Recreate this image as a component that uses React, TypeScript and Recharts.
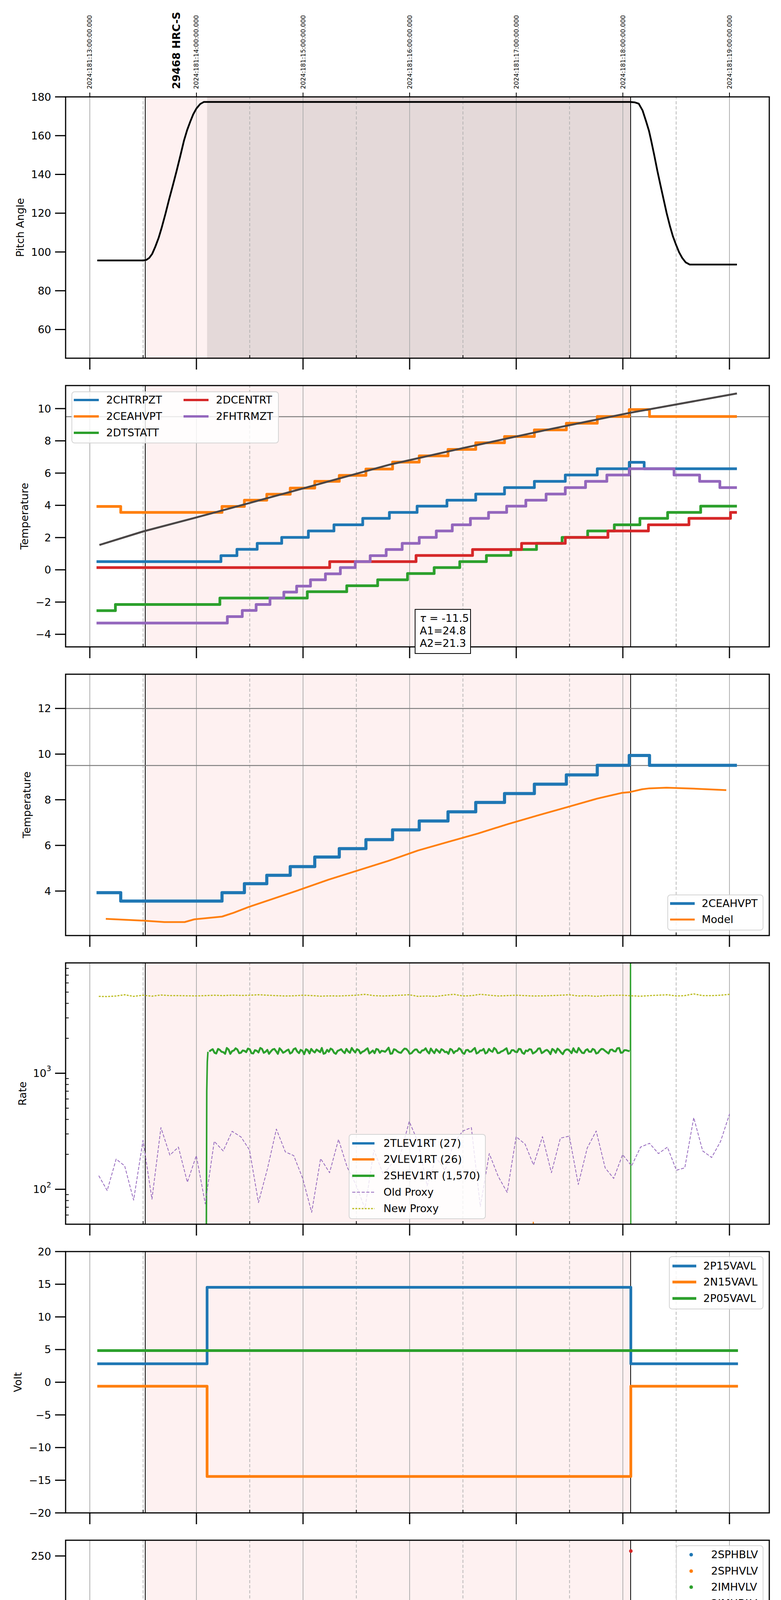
import React from 'react';
import { ComposedChart, Line, Scatter, XAxis, YAxis, ReferenceArea, ReferenceLine, Legend, Label } from 'recharts';

// ---------------- data ----------------
const HOURS = [9, 10, 11, 12, 13, 14, 15];
const HALF_HOURS = [9.5, 10.5, 11.5, 12.5, 13.5, 14.5];
const X_TICKS = [9, 9.5, 10, 10.5, 11, 11.5, 12, 12.5, 13, 13.5, 14, 14.5, 15];
const HOUR_LABELS = ['09h', '10h', '11h', '12h', '13h', '14h', '15h'];
const HALF_LABEL = '30';
const TOP_LABELS = [
  '2024:181:13:00:00.000', '2024:181:14:00:00.000', '2024:181:15:00:00.000', '2024:181:16:00:00.000',
  '2024:181:17:00:00.000', '2024:181:18:00:00.000', '2024:181:19:00:00.000',
];
const OBSID_LABEL = '29468 HRC-S';
const OBSID_X = 9.81;
const TOP_TICKS = [9, OBSID_X, 10, 11, 12, 13, 14, 15];
const X_TITLE = '2024-06-29 (181)';
const OBS_START = 9.52;
const OBS_END = 14.073;
const DWELL_START = 10.1;

const pitchAngle = [[9.07,95.6],[9.499,95.6],[9.53,95.9],[9.557,96.9],[9.585,99.0],[9.615,102.8],[9.645,107.2],[9.674,112.5],[9.71,119.8],[9.744,127.2],[9.78,134.6],[9.814,141.8],[9.85,149.8],[9.883,157.4],[9.913,162.9],[9.942,167.2],[9.97,171.0],[10.0,174.0],[10.035,176.3],[10.07,177.4],[14.068,177.4],[14.11,177.2],[14.149,176.5],[14.185,173.0],[14.219,167.2],[14.245,162.5],[14.266,157.4],[14.295,149.8],[14.324,141.8],[14.353,134.4],[14.382,127.2],[14.411,120.0],[14.441,113.5],[14.47,108.0],[14.499,103.7],[14.528,99.8],[14.557,96.9],[14.59,94.6],[14.627,93.5],[15.07,93.5]];

const chtrpzt = [[9.063,0.51],[10.23,0.88],[10.38,1.27],[10.57,1.64],[10.8,2.01],[11.05,2.41],[11.29,2.79],[11.56,3.19],[11.81,3.56],[12.07,3.95],[12.35,4.32],[12.62,4.7],[12.89,5.1],[13.17,5.49],[13.46,5.88],[13.76,6.27],[14.06,6.67],[14.2,6.27],[15.07,6.27]];
const ceahvpt = [[9.063,3.93],[9.29,3.56],[10.24,3.93],[10.45,4.32],[10.66,4.69],[10.88,5.07],[11.11,5.49],[11.34,5.86],[11.59,6.25],[11.84,6.68],[12.09,7.07],[12.36,7.47],[12.62,7.88],[12.89,8.27],[13.17,8.68],[13.47,9.09],[13.76,9.51],[14.06,9.94],[14.25,9.51],[15.07,9.51]];
const dtstatt = [[9.063,-2.53],[9.24,-2.15],[10.22,-1.75],[11.04,-1.36],[11.41,-0.99],[11.7,-0.62],[11.98,-0.23],[12.23,0.14],[12.47,0.51],[12.72,0.89],[12.95,1.26],[13.19,1.64],[13.43,2.01],[13.67,2.41],[13.92,2.79],[14.16,3.19],[14.42,3.56],[14.73,3.95],[15.07,3.95]];
const dcentrt = [[9.063,0.14],[11.25,0.51],[12.06,0.89],[12.59,1.26],[13.05,1.64],[13.46,2.01],[13.86,2.41],[14.24,2.79],[14.62,3.19],[15.01,3.56],[15.07,3.56]];
const fhtrmzt = [[9.063,-3.3],[10.29,-2.9],[10.43,-2.52],[10.56,-2.15],[10.69,-1.75],[10.82,-1.38],[10.94,-1.01],[11.07,-0.62],[11.21,-0.25],[11.35,0.14],[11.49,0.51],[11.63,0.88],[11.78,1.26],[11.93,1.64],[12.09,2.01],[12.25,2.41],[12.4,2.79],[12.57,3.19],[12.74,3.56],[12.91,3.95],[13.09,4.32],[13.28,4.7],[13.46,5.1],[13.65,5.49],[13.85,5.88],[14.06,6.27],[14.48,5.88],[14.72,5.49],[14.91,5.1],[15.07,5.1]];
const fitModel = [[9.09,1.54],[9.5,2.38],[10.0,3.25],[10.24,3.68],[11.0,5.05],[11.81,6.52],[12.5,7.55],[13.3,8.7],[14.06,9.73],[15.07,10.94]];
const FIT_TEXT = ['= -11.5', 'A1=24.8', 'A2=21.3'];

const ceahvptModel = [[9.15,2.78],[9.51,2.7],[9.7,2.64],[9.89,2.64],[9.98,2.76],[10.24,2.88],[10.35,3.05],[10.49,3.3],[10.7,3.63],[10.96,4.04],[11.24,4.5],[11.52,4.91],[11.8,5.32],[12.08,5.78],[12.36,6.15],[12.64,6.52],[12.92,6.93],[13.2,7.31],[13.48,7.68],[13.76,8.05],[13.99,8.3],[14.06,8.33],[14.18,8.46],[14.25,8.5],[14.41,8.53],[14.6,8.5],[14.79,8.46],[14.97,8.42]];

const proxyTimes = [9.084,9.163,9.247,9.327,9.411,9.499,9.583,9.667,9.751,9.831,9.915,9.999,10.083,10.167,10.251,10.335,10.419,10.498,10.582,10.666,10.75,10.834,10.913,10.997,11.081,11.165,11.249,11.333,11.413,11.497,11.581,11.665,11.753,11.837,11.916,11.996,12.08,12.164,12.248,12.332,12.416,12.5,12.579,12.663,12.747,12.831,12.915,12.999,13.083,13.162,13.246,13.33,13.414,13.498,13.582,13.666,13.75,13.834,13.914,13.998,14.082,14.166,14.25,14.334,14.418,14.502,14.581,14.665,14.749,14.833,14.917,15.001];
const oldProxy = [131,97.5,182,159,80.7,264,82.2,340,197,231,115,195,74.9,259,214,316,282,218,76.9,150,330,210,195,124,63.3,184,139,269,156,109,68.2,218,134,168,203,384,254,107,188,145,254,318,340,71,203,129,94,284,245,162,284,139,276,287,110,227,318,153,124,199,159,231,249,203,231,146,153,414,214,188,259,446];
const newProxy = [4595,4578,4630,4745,4595,4703,4612,4720,4665,4665,4648,4640,4665,4703,4665,4710,4680,4700,4745,4703,4665,4630,4650,4703,4670,4612,4640,4630,4665,4703,4786,4665,4630,4665,4703,4745,4595,4630,4595,4703,4786,4630,4665,4786,4703,4630,4665,4703,4665,4630,4640,4665,4703,4745,4630,4665,4600,4665,4690,4703,4650,4612,4665,4703,4745,4630,4665,4826,4665,4665,4703,4786];
const shevTimesA = [10.12,10.153,10.186,10.219,10.252,10.285,10.318,10.351,10.384,10.417,10.45,10.483,10.516,10.549,10.582,10.615,10.648,10.681,10.714,10.747,10.78,10.813,10.846,10.879,10.912,10.945,10.978,11.011,11.044,11.077,11.11,11.143,11.176,11.209,11.242,11.275,11.308,11.341,11.374,11.407,11.44,11.473,11.506,11.539,11.572,11.605,11.638,11.671,11.704,11.737,11.77,11.803,11.836,11.869,11.902,11.935,11.968,12.001,12.034,12.067,12.1,12.133,12.166,12.199,12.232,12.265,12.298,12.331,12.364,12.397,12.43,12.463,12.496,12.529,12.562,12.595,12.628,12.661,12.694,12.727,12.76,12.793,12.826,12.859,12.892,12.925,12.958,12.991,13.024,13.057,13.09,13.123,13.156,13.189,13.222,13.255,13.288,13.321,13.354,13.387,13.42,13.453,13.486,13.519,13.552,13.585,13.618,13.651,13.684,13.717,13.75,13.783,13.816,13.849,13.882,13.915,13.948,13.981,14.014,14.047];
const shevValuesA = [1540,1610,1480,1590,1520,1650,1470,1570,1600,1500,1560,1630,1490,1580,1510,1620,1530,1470,1600,1550,1640,1500,1570,1480,1610,1540,1590,1460,1580,1620,1510,1560,1650,1490,1530,1600,1470,1580,1540,1620,1500,1570,1610,1480,1550,1640,1520,1490,1600,1560,1530,1660,1480,1590,1510,1570,1620,1470,1550,1600,1500,1580,1540,1630,1490,1560,1610,1520,1470,1590,1550,1640,1500,1580,1530,1600,1480,1570,1620,1510,1560,1650,1490,1540,1600,1470,1580,1530,1620,1500,1570,1610,1480,1550,1640,1520,1590,1460,1580,1630,1510,1560,1600,1490,1540,1650,1500,1580,1530,1620,1480,1570,1610,1520,1590,1550,1640,1500,1580,1560];
const shevTimesB = [10.137,10.17,10.203,10.236,10.269,10.302,10.335,10.368,10.401,10.434,10.467,10.5,10.533,10.566,10.599,10.632,10.665,10.698,10.731,10.764,10.797,10.83,10.863,10.896,10.929,10.962,10.995,11.028,11.061,11.094,11.127,11.16,11.193,11.226,11.259,11.292,11.325,11.358,11.391,11.424,11.457,11.49,11.523,11.556,11.589,11.622,11.655,11.688,11.721,11.754,11.787,11.82,11.853,11.886,11.919,11.952,11.985,12.018,12.051,12.084,12.117,12.15,12.183,12.216,12.249,12.282,12.315,12.348,12.381,12.414,12.447,12.48,12.513,12.546,12.579,12.612,12.645,12.678,12.711,12.744,12.777,12.81,12.843,12.876,12.909,12.942,12.975,13.008,13.041,13.074,13.107,13.14,13.173,13.206,13.239,13.272,13.305,13.338,13.371,13.404,13.437,13.47,13.503,13.536,13.569,13.602,13.635,13.668,13.701,13.734,13.767,13.8,13.833,13.866,13.899,13.932,13.965,13.998,14.031,14.064];
const shevValuesB = [1580,1500,1620,1530,1470,1600,1550,1640,1490,1570,1520,1610,1480,1560,1650,1500,1590,1540,1620,1470,1580,1530,1600,1510,1640,1490,1560,1610,1480,1550,1600,1520,1470,1590,1630,1500,1560,1610,1490,1540,1650,1510,1580,1530,1600,1480,1570,1620,1500,1550,1590,1470,1610,1540,1500,1630,1560,1490,1600,1520,1570,1640,1480,1550,1610,1500,1580,1530,1620,1490,1560,1600,1470,1590,1540,1650,1510,1570,1480,1620,1530,1600,1500,1560,1640,1490,1580,1520,1610,1470,1550,1600,1510,1630,1490,1570,1540,1620,1500,1580,1460,1600,1550,1640,1510,1570,1490,1610,1530,1590,1500,1620,1560,1480,1600,1540,1650,1510,1580,1550];
const shevRise = [[10.092,20],[10.097,700],[10.102,1250],[10.108,1530]];
const shevDrop = [[14.07,1560],[14.072,100000],[14.075,20]];
const tlev = [[9.07,27],[15.08,27]];
const vlev = [[9.07,26],[13.155,26],[13.16,52],[13.166,26],[15.08,26]];

const p15vavl = [[9.07,2.82],[10.1,14.53],[14.075,2.82],[15.08,2.82]];
const n15vavl = [[9.07,-0.62],[10.1,-14.42],[14.075,-0.62],[15.08,-0.62]];
const p05vavl = [[9.07,4.85],[15.08,4.85]];

const sphblvPts = [[10.128,118],[10.13,102],[10.135,102],[10.14,97],[10.15,92],[10.16,87],[10.17,82],[10.18,80],[10.19,78]];
const sphblvBand = [[10.19,78],[14.078,78]];
const sphvlvPts = [[10.128,127],[10.129,125.5],[10.13,121],[10.135,96],[10.14,91],[10.145,89],[10.15,85],[10.16,80],[10.165,75],[10.17,71],[12.668,127],[12.704,127],[12.716,127],[13.232,127]];
const sphvlvBand = [[10.175,70.8],[14.078,70.8]];
const imhvlvPts: number[][] = [];
const imhblvPts = [[14.075,255]];

const spinatm = [[10.1,0.81],[10.87,1.28],[11.54,1.75],[12.11,2.21],[12.594,-5],[12.608,2.21],[12.652,-5],[12.664,2.69],
  [12.672,-5],[12.68,2.69],[12.688,-5],[12.696,2.69],[12.704,-5],[12.712,2.69],[12.72,-5],[12.728,2.69],[12.736,-5],[12.744,2.69],[12.752,-5],[12.76,2.69],[12.768,-5],[12.776,2.69],[12.784,-5],[12.792,2.69],[12.8,-5],[12.808,2.69],[12.816,-5],
  [12.822,2.69],
  [13.132,-5],[13.14,3.17],[13.148,-5],[13.156,3.17],[13.164,-5],[13.172,3.17],[13.18,-5],[13.188,3.17],[13.196,-5],[13.204,3.17],[13.212,-5],[13.22,3.17],[13.228,-5],[13.236,3.17],
  [13.27,-5],[13.284,3.17],[13.66,3.67],[14.073,3.67]];
const sphvatm = [[10.097,11.3],[10.1,12.0],[10.25,12.33],[10.33,12.62],[10.4,12.98],[10.48,13.33],[10.55,13.66],[10.63,14.0],[10.71,14.32],[10.8,14.67],[10.9,15.02],[11.02,15.35],[11.14,15.7],[11.26,16.05],[11.41,16.4],[11.57,16.73],[11.74,17.08],[11.92,17.44],[12.09,17.79],[12.3,18.13],[12.49,18.5],
  [12.594,8.95],[12.608,18.5],[12.652,-5],[12.664,8.95],
  [12.672,18.88],[12.68,8.95],[12.688,18.88],[12.696,8.95],[12.704,18.88],[12.712,8.95],[12.72,18.88],[12.728,8.95],[12.736,18.88],[12.744,8.95],[12.752,18.88],[12.76,8.95],[12.768,18.88],[12.776,8.95],[12.784,18.88],[12.792,8.95],[12.8,18.88],[12.808,8.95],[12.816,18.88],
  [12.906,19.2],[13.12,19.55],
  [13.132,9.64],[13.14,19.55],[13.148,9.64],[13.156,19.55],[13.164,9.64],[13.172,19.55],[13.18,9.64],[13.188,19.55],[13.196,9.64],[13.204,19.55],[13.212,9.64],[13.22,19.55],[13.228,9.64],[13.236,19.55],
  [13.27,9.88],[13.284,19.55],[13.396,19.95],[13.66,20.3],[13.91,20.62],[14.073,-5],[14.1,-5]];
const iminatm = [[10.1,0.36],[11.58,0.81],[12.55,1.28],[12.594,2.2],[12.608,1.28],
  [12.672,2.69],[12.68,1.28],[12.688,2.69],[12.696,1.28],[12.704,2.69],[12.712,1.28],[12.72,2.69],[12.728,1.28],[12.736,2.69],[12.744,1.28],[12.752,2.69],[12.76,1.28],[12.768,2.69],[12.776,1.28],[12.784,2.69],[12.792,1.28],[12.8,2.69],[12.808,1.28],[12.816,2.69],
  [12.822,1.28],
  [13.132,3.2],[13.14,1.28],[13.148,3.2],[13.156,1.28],[13.164,3.2],[13.172,1.28],[13.18,3.2],[13.188,1.28],[13.196,3.2],[13.204,1.28],[13.212,3.2],[13.22,1.28],[13.228,3.2],[13.236,1.28],
  [13.27,3.2],[13.284,1.75],[13.92,2.21],[14.073,2.21]];
const imhvatm = [[10.095,-5],[10.1,11.3],[10.68,11.65],[10.95,12.0],[11.17,12.33],[11.4,12.63],[11.61,12.98],[11.85,13.33],[12.06,13.66],[12.29,14.0],[12.49,14.32],
  [12.594,18.9],[12.608,14.32],[12.652,8.97],[12.66,18.9],[12.664,14.32],
  [12.672,18.9],[12.68,14.35],[12.688,18.9],[12.696,14.35],[12.704,18.9],[12.712,14.35],[12.72,18.9],[12.728,14.67],[12.736,18.9],[12.744,14.67],[12.752,18.9],[12.76,14.67],[12.768,18.9],[12.776,14.67],[12.784,18.9],[12.792,14.67],[12.8,18.9],[12.808,14.67],[12.816,18.9],
  [12.822,14.67],[12.944,15.0],
  [13.132,19.6],[13.14,15.0],[13.148,19.6],[13.156,15.0],[13.164,19.6],[13.172,15.0],[13.18,19.6],[13.188,15.35],[13.196,19.6],[13.204,15.35],[13.212,19.6],[13.22,15.35],[13.228,19.6],[13.236,15.35],
  [13.27,19.6],[13.284,15.35],[13.42,15.7],[13.67,16.05],[13.91,16.4],[14.073,30],[14.076,-5],[14.2,-5]];

const fradpyt = [[9.07,-3.65],[9.69,-4.02],[9.73,-4.4],[10.45,-4.02],[10.55,-3.65],[10.68,-3.28],[10.82,-2.88],[10.96,-2.51],[11.1,-2.13],[11.24,-1.75],[11.38,-1.38],[11.53,-0.99],[11.71,-0.62],[11.87,-0.24],[12.03,0.14],[12.2,0.52],[12.38,0.89],[12.55,1.27],[12.8,1.65],[12.92,2.02],[13.12,2.41],[13.3,2.78],[13.5,3.16],[13.71,3.54],[13.93,3.92],[14.49,3.54],[14.59,3.16],[14.68,2.78],[14.79,2.41],[14.9,2.02],[15.03,1.65],[15.08,1.65]];
const fepratm = [[10.097,-5],[10.1,-3.49],[10.16,-3.06],[10.2,-2.67],[10.25,-2.25],[10.32,-1.81],[10.41,-1.38],[10.51,-0.97],[10.63,-0.53],[10.76,-0.09],[10.9,0.36],[11.05,0.82],[11.2,1.28],[11.37,1.74],[11.52,2.19],[11.7,2.67],[11.87,3.15],[12.06,3.64],[12.25,4.13],[12.44,4.63],[12.64,5.15],
  [12.656,-5],[12.664,5.15],
  [12.672,-5],[12.68,5.15],[12.688,-5],[12.696,5.15],[12.704,-5],[12.712,5.15],[12.72,-5],[12.728,5.15],[12.736,-5],[12.744,5.15],[12.752,-5],[12.76,5.15],[12.768,-5],[12.776,5.15],[12.784,-5],[12.792,5.15],[12.8,-5],[12.808,5.15],[12.816,-5],
  [12.822,5.15],[12.85,5.68],[13.07,6.21],
  [13.132,-5],[13.14,6.21],[13.148,-5],[13.156,6.21],[13.164,-5],[13.172,6.21],[13.18,-5],[13.188,6.21],[13.196,-5],[13.204,6.21],[13.212,-5],[13.22,6.21],[13.228,-5],[13.236,6.21],
  [13.27,-5],[13.284,6.21],[13.31,6.73],[13.54,7.4],[14.073,-5],[14.1,-5]];
const fe00atm = [[10.097,-5],[10.1,-3.95],[10.25,-3.62],[10.35,-3.28],[10.45,-2.94],[10.53,-2.6],[10.62,-2.27],[10.72,-1.94],[10.81,-1.6],[10.86,-2.0],[10.864,-1.6],[10.89,-1.27],[10.98,-0.92],[11.09,-0.6],[11.2,-0.27],[11.28,0.4],[11.284,-0.27],[11.3,0.05],[11.41,0.36],[11.53,0.69],[11.59,0.0],[11.594,0.69],[11.65,1.02],[11.74,0.6],[11.744,1.02],[11.76,1.34],[11.88,1.67],[12.0,2.0],[12.11,2.32],[12.22,3.0],[12.224,2.32],[12.23,2.63],[12.33,3.3],[12.334,2.63],[12.37,2.94],[12.49,3.29],
  [12.594,6.2],[12.608,3.29],[12.63,3.59],
  [12.672,6.2],[12.68,3.59],[12.688,6.2],[12.696,3.59],[12.704,6.2],[12.712,3.59],[12.72,6.2],[12.728,3.59],[12.736,6.2],[12.744,3.59],[12.752,6.2],[12.76,3.59],[12.768,6.2],[12.776,3.59],[12.784,6.2],[12.792,3.59],[12.8,6.2],[12.808,3.59],[12.816,6.2],
  [12.822,3.92],[12.91,4.6],[12.914,4.27],[13.04,4.57],
  [13.132,6.2],[13.14,4.57],[13.148,6.2],[13.156,4.57],[13.164,6.2],[13.172,4.57],[13.18,6.2],[13.188,4.88],[13.196,6.2],[13.204,4.88],[13.212,6.2],[13.22,4.88],[13.228,6.2],[13.236,4.88],
  [13.27,6.2],[13.284,4.88],[13.32,3.54],[13.324,5.2],[13.48,5.53],[13.62,5.83],[13.71,6.23],[13.714,5.83],[13.76,6.14],[13.93,6.44],[14.073,30],[14.076,-10],[14.2,-10]];

// y-axis tick values per panel
const Y1_TICKS = [60, 80, 100, 120, 140, 160, 180];
const Y2_TICKS = [-4, -2, 0, 2, 4, 6, 8, 10];
const Y3_TICKS = [4, 6, 8, 10, 12];
const Y4_TICKS = [60, 70, 80, 90, 100, 200, 300, 400, 500, 600, 700, 800, 900, 1000, 2000, 3000, 4000, 5000, 6000, 7000, 8000];
const Y4_MAJOR = [100, 1000];
const Y4_EXP = ['2', '3'];
const Y5_TICKS = [-20, -15, -10, -5, 0, 5, 10, 15, 20];
const Y6_TICKS = [0, 50, 100, 150, 200, 250];
const Y7_TICKS = [0, 2.5, 5, 7.5, 10, 12.5, 15, 17.5, 20];
const Y8_TICKS = [-4, -2, 0, 2, 4, 6];

// ---------------- style / layout ----------------
const FONT = '"DejaVu Sans", "Noto Sans", sans-serif';
const FS = 27;
const W = 2000;
const LEFT = 168;
const RIGHT_M = 30;
const PLOT_H = 669;
const TOP_AXIS_H = 248;
const XMIN = 8.7729;
const XMAX = 15.3736;
const PANEL_TOPS = [248, 987, 1726, 2465, 3204, 3943, 4682, 5420];
const PINK = '#fef1f1';
const DARK = '#e4d9d9';
const GRID = '#b0b0b0';
const C = { blue: '#1f77b4', orange: '#ff7f0e', green: '#2ca02c', red: '#d62728', purple: '#9467bd', olive: '#bcbd22' };

const rows = (p: number[][]) => p.map(([t, v]) => ({ t, v }));
const zipRows = (ts: number[], vs: number[]) => ts.map((t, i) => ({ t, v: vs[i] }));
const minus = (v: number, d = 0) => (v < 0 ? '\u2212' : '') + Math.abs(v).toFixed(d);

const line = (key: string, data: any[], color: string, width: number, type: any = 'stepAfter', extra: any = {}) => (
  <Line key={key} data={data} dataKey="v" type={type} stroke={color} strokeWidth={width} dot={false} activeDot={false}
    isAnimationActive={false} strokeLinejoin="round" {...extra} />
);
const dots = (key: string, data: number[][], color: string) => (
  <Scatter key={key} data={rows(data)} dataKey="v" fill={color} isAnimationActive={false}
    shape={(p: any) => <circle cx={p.cx} cy={p.cy} r={4.6} fill={color} />} />
);

const makeYTick = (fmt: (v: number) => any, major?: number[]) => (p: any) => {
  const v = p.payload.value;
  const isMajor = major ? major.includes(v) : true;
  if (!isMajor) return <line x1={p.x} x2={p.x + 8} y1={p.y} y2={p.y} stroke="#000" strokeWidth={2} />;
  return (
    <g>
      <line x1={p.x - 27} x2={p.x} y1={p.y} y2={p.y} stroke="#000" strokeWidth={3} />
      <text x={p.x - 37} y={p.y} textAnchor="end" dominantBaseline="central" fontFamily={FONT} fontSize={FS} fill="#000">{fmt(v)}</text>
    </g>
  );
};

const bottomTick = (labeled: boolean) => (p: any) => {
  const v = p.payload.value;
  const major = Number.isInteger(v);
  if (!major) {
    return (
      <g>
        <line x1={p.x} x2={p.x} y1={p.y} y2={p.y - 8} stroke="#000" strokeWidth={2} />
        {labeled && <text x={p.x} y={p.y + 17} textAnchor="middle" dominantBaseline="central" fontFamily={FONT} fontSize={18} fill="#000">{HALF_LABEL}</text>}
      </g>
    );
  }
  return (
    <g>
      <line x1={p.x} x2={p.x} y1={p.y} y2={p.y + 29} stroke="#000" strokeWidth={3} />
      {labeled && <text x={p.x} y={p.y + 52} textAnchor="middle" dominantBaseline="central" fontFamily={FONT} fontSize={FS} fill="#000">{HOUR_LABELS[HOURS.indexOf(v)]}</text>}
    </g>
  );
};

const topTick = (p: any) => {
  const v = p.payload.value;
  const ty = p.y - 20;
  if (v === OBSID_X) {
    return (
      <text x={p.x} y={ty} transform={`rotate(-90 ${p.x} ${ty})`} textAnchor="start" dominantBaseline="central"
        fontFamily={FONT} fontWeight="bold" fontSize={27} fill="#000">{OBSID_LABEL}</text>
    );
  }
  return (
    <g>
      <line x1={p.x} x2={p.x} y1={p.y} y2={p.y - 11} stroke="#000" strokeWidth={2} />
      <text x={p.x} y={ty} transform={`rotate(-90 ${p.x} ${ty})`} textAnchor="start" dominantBaseline="central"
        fontFamily={FONT} fontSize={16} fill="#000">{TOP_LABELS[HOURS.indexOf(v)]}</text>
    </g>
  );
};

const background = (dark: boolean) => [
  <ReferenceArea key="obs" x1={OBS_START} x2={OBS_END} fill={PINK} fillOpacity={1} stroke="none" zIndex={-300} />,
  ...(dark ? [<ReferenceArea key="dwell" x1={DWELL_START} x2={OBS_END} fill={DARK} fillOpacity={1} stroke="none" zIndex={-290} />] : []),
  ...HOURS.map((h) => <ReferenceLine key={'h' + h} x={h} stroke={GRID} strokeWidth={2} zIndex={-200} />),
  ...HALF_HOURS.map((h) => <ReferenceLine key={'m' + h} x={h} stroke={GRID} strokeWidth={1.8} strokeDasharray="8 5" zIndex={-200} />),
  <ReferenceLine key="os" x={OBS_START} stroke="#000" strokeWidth={2} zIndex={-150} />,
  <ReferenceLine key="oe" x={OBS_END} stroke="#000" strokeWidth={2} zIndex={-150} />,
];

const legendBox = (cfg: any, plotTop: number) => {
  const content = (
    <div style={{ position: 'relative', width: cfg.w, height: cfg.h, boxSizing: 'border-box', border: '2px solid #d4d4d4',
      borderRadius: 8, background: 'rgba(255,255,255,0.82)', fontFamily: FONT, fontSize: FS, color: '#000' }}>
      {cfg.items.map((it: any) => (
        <React.Fragment key={it.label}>
          <svg width={72} height={24} style={{ position: 'absolute', left: (it.hx ?? 7) - 2, top: it.hy - 14, overflow: 'visible' }}>
            {it.kind === 'dot'
              ? <circle cx={(it.cx ?? 39) - (it.hx ?? 7)} cy={12} r={4.6} fill={it.color} />
              : <line x1={0} x2={it.len ?? 63} y1={12} y2={12} stroke={it.color} strokeWidth={it.lw ?? 7} strokeDasharray={it.dash} />}
          </svg>
          <span style={{ position: 'absolute', left: (it.tx ?? 88) - 2, top: it.hy - 20, lineHeight: '36px', whiteSpace: 'nowrap' }}>{it.label}</span>
        </React.Fragment>
      ))}
    </div>
  );
  return (
    <Legend key="legend" content={() => content} layout="horizontal" verticalAlign="middle" align="center"
      wrapperStyle={{ left: cfg.left, top: plotTop + cfg.dy, width: cfg.w, height: cfg.h }} />
  );
};

function Panel(props: any) {
  const { i, yDomain, yTicks, yFmt, yMajor, yLabel, yLabelX, yScale, legend, series, overlay, dark, anchor } = props;
  const first = i === 0;
  const last = i === PANEL_TOPS.length - 1;
  const topH = first ? TOP_AXIS_H : 0;
  const mt = first ? 0 : 20;
  const bottomH = last ? 110 : 40;
  const height = mt + topH + PLOT_H + bottomH;
  const wrapTop = PANEL_TOPS[i] - mt - topH;
  const plotTop = mt + topH;
  const cy = plotTop + PLOT_H / 2;
  return (
    <div style={{ position: 'absolute', left: 0, top: wrapTop, width: W, height }}>
      <ComposedChart width={W} height={height} margin={{ top: mt, right: RIGHT_M, bottom: 0, left: 0 }} style={{ fontFamily: FONT }}>
        {first && (
          <XAxis xAxisId="top" orientation="top" type="number" dataKey="t" domain={[XMIN, XMAX]} allowDataOverflow ticks={TOP_TICKS}
            interval={0} height={topH} tick={topTick} tickLine={false} axisLine={false} tickSize={0} tickMargin={0} />
        )}
        <XAxis type="number" dataKey="t" domain={[XMIN, XMAX]} allowDataOverflow ticks={X_TICKS} interval={0} height={bottomH}
          tick={bottomTick(last)} tickLine={false} axisLine={false} tickSize={0} tickMargin={0}>
          {last && (
            <Label content={() => (
              <text x={(LEFT + W - RIGHT_M) / 2} y={plotTop + PLOT_H + 90} textAnchor="middle" dominantBaseline="central"
                fontFamily={FONT} fontSize={33} fill="#000">{X_TITLE}</text>
            )} />
          )}
        </XAxis>
        <YAxis type="number" scale={yScale || 'linear'} domain={yDomain} allowDataOverflow ticks={yTicks} interval={0} width={LEFT}
          tick={makeYTick(yFmt, yMajor)} tickLine={false} axisLine={false} tickSize={0} tickMargin={0}>
          <Label content={() => (
            <text x={yLabelX} y={cy} transform={`rotate(-90 ${yLabelX} ${cy})`} textAnchor="middle" dominantBaseline="central"
              fontFamily={FONT} fontSize={FS} fill="#000">{yLabel}</text>
          )} />
        </YAxis>
        {background(!!dark)}
        {first && anchor && (
          <Line key="topAnchor" xAxisId="top" data={anchor} dataKey="v" stroke="none" strokeWidth={0} dot={false} activeDot={false} isAnimationActive={false} />
        )}
        {series}
        <ReferenceArea key="frame" x1={XMIN} x2={XMAX} y1={yDomain[0]} y2={yDomain[1]} fill="none" stroke="#000" strokeWidth={3} zIndex={1000} />
        {legend && legendBox(legend, plotTop)}
      </ComposedChart>
      {overlay}
    </div>
  );
}

export default function App() {
  const ceahRows = rows(ceahvpt);
  const fhtrRows = rows(fhtrmzt);
  const pitchRows = rows(pitchAngle);
  const shevRows = [...zipRows(shevTimesA, shevValuesA), ...zipRows(shevTimesB, shevValuesB)].sort((a, b) => a.t - b.t);
  return (
    <div style={{ position: 'absolute', left: 0, top: 0, width: W, height: 6200, background: '#fff', fontFamily: FONT, overflow: 'hidden' }}>
      <Panel i={0} dark yDomain={[45.2, 180]} yTicks={Y1_TICKS} yFmt={(v: number) => minus(v)} yLabel="Pitch Angle" yLabelX={51}
        anchor={pitchRows}
        series={[line('pitch', pitchRows, '#000', 4.5, 'linear')]} />

      <Panel i={1} yDomain={[-4.78, 11.43]} yTicks={Y2_TICKS} yFmt={(v: number) => minus(v)} yLabel="Temperature" yLabelX={62}
        series={[
          <ReferenceLine key="lim" y={9.5} stroke="#808080" strokeWidth={2.5} zIndex={-100} />,
          line('chtrpzt', rows(chtrpzt), C.blue, 7),
          line('ceahvpt', ceahRows, C.orange, 7),
          line('dtstatt', rows(dtstatt), C.green, 7),
          line('dcentrt', rows(dcentrt), C.red, 7),
          line('fhtrmzt', fhtrRows, C.purple, 7),
          line('fit', rows(fitModel), '#4a4646', 5, 'linear'),
        ]}
        legend={{ left: 183, dy: 15, w: 531, h: 133, items: [
          { label: '2CHTRPZT', color: C.blue, hx: 6, hy: 22, tx: 89, len: 64, lw: 6 },
          { label: '2CEAHVPT', color: C.orange, hx: 6, hy: 64, tx: 89, len: 64, lw: 6 },
          { label: '2DTSTATT', color: C.green, hx: 6, hy: 106, tx: 89, len: 64, lw: 6 },
          { label: '2DCENTRT', color: C.red, hx: 287, hy: 22, tx: 370, len: 64, lw: 6 },
          { label: '2FHTRMZT', color: C.purple, hx: 287, hy: 64, tx: 370, len: 64, lw: 6 },
        ] }}
        overlay={
          <div style={{ position: 'absolute', left: 1062, top: 592, width: 144, height: 115, boxSizing: 'border-box', border: '2px solid #000',
            background: '#fff', padding: '6px 0 0 11px', fontFamily: FONT, fontSize: FS, lineHeight: '32px', color: '#000', whiteSpace: 'nowrap' }}>
            <div><span style={{ fontStyle: 'italic' }}>τ</span> {FIT_TEXT[0]}</div>
            <div>{FIT_TEXT[1]}</div>
            <div>{FIT_TEXT[2]}</div>
          </div>
        } />

      <Panel i={2} yDomain={[2.05, 13.5]} yTicks={Y3_TICKS} yFmt={(v: number) => minus(v)} yLabel="Temperature" yLabelX={68}
        series={[
          <ReferenceLine key="l12" y={12} stroke="#808080" strokeWidth={2.5} zIndex={-100} />,
          <ReferenceLine key="l95" y={9.5} stroke="#808080" strokeWidth={2.5} zIndex={-100} />,
          line('ceah3', ceahRows, C.blue, 8),
          line('model3', rows(ceahvptModel), C.orange, 4.5, 'linear'),
        ]}
        legend={{ left: 1709, dy: 564, w: 246, h: 92, items: [
          { label: '2CEAHVPT', color: C.blue, hy: 23, lw: 7 },
          { label: 'Model', color: C.orange, hy: 64, lw: 5 },
        ] }} />

      <Panel i={3} yScale="log" yDomain={[50, 8930]} yTicks={Y4_TICKS} yMajor={Y4_MAJOR}
        yFmt={(v: number) => (<>10<tspan dy={-12} fontSize={19}>{Y4_EXP[Y4_MAJOR.indexOf(v)]}</tspan></>)}
        yLabel="Rate" yLabelX={57}
        series={[
          line('tlev', rows(tlev), C.blue, 3, 'linear'),
          line('vlev', rows(vlev), C.orange, 3, 'linear'),
          line('shevRise', rows(shevRise), C.green, 4, 'linear'),
          line('shev', shevRows, C.green, 5, 'linear'),
          line('shevDrop', rows(shevDrop), C.green, 3, 'linear'),
          line('oldProxy', zipRows(proxyTimes, oldProxy), C.purple, 2, 'linear', { strokeDasharray: '8 4' }),
          line('newProxy', zipRows(proxyTimes, newProxy), C.olive, 3, 'linear', { strokeDasharray: '5 3' }),
        ]}
        legend={{ left: 893, dy: 438, w: 351, h: 218, items: [
          { label: '2TLEV1RT (27)', color: C.blue, hx: 9, hy: 24, len: 57, lw: 6, tx: 89 },
          { label: '2VLEV1RT (26)', color: C.orange, hx: 9, hy: 65, len: 57, lw: 6, tx: 89 },
          { label: '2SHEV1RT (1,570)', color: C.green, hx: 9, hy: 107, len: 57, lw: 6, tx: 89 },
          { label: 'Old Proxy', color: C.purple, hx: 9, hy: 149, len: 57, lw: 2, dash: '8 4', tx: 89 },
          { label: 'New Proxy', color: C.olive, hx: 9, hy: 191, len: 57, lw: 3, dash: '5 3', tx: 89 },
        ] }} />

      <Panel i={4} yDomain={[-20, 20]} yTicks={Y5_TICKS} yFmt={(v: number) => minus(v)} yLabel="Volt" yLabelX={45}
        series={[
          line('p15', rows(p15vavl), C.blue, 7),
          line('n15', rows(n15vavl), C.orange, 7),
          line('p05', rows(p05vavl), C.green, 7),
        ]}
        legend={{ left: 1713, dy: 12, w: 242, h: 136, items: [
          { label: '2P15VAVL', color: C.blue, hx: 9, hy: 25, len: 61 },
          { label: '2N15VAVL', color: C.orange, hx: 9, hy: 66, len: 61 },
          { label: '2P05VAVL', color: C.green, hx: 9, hy: 108, len: 61 },
        ] }} />

      <Panel i={5} yDomain={[0, 266]} yTicks={Y6_TICKS} yFmt={(v: number) => minus(v)} yLabel="HV Monitor" yLabelX={51}
        series={[
          line('hbBand', rows(sphblvBand), C.blue, 13, 'linear', { strokeLinecap: 'round' }),
          line('hvBand', rows(sphvlvBand), C.orange, 11, 'linear', { strokeLinecap: 'round' }),
          dots('sphblv', sphblvPts, C.blue),
          dots('sphvlv', sphvlvPts, C.orange),
          dots('imhvlv', imhvlvPts, C.green),
          dots('imhblv', imhblvPts, C.red),
        ]}
        legend={{ left: 1731, dy: 13, w: 224, h: 175, items: [
          { label: '2SPHBLV', color: C.blue, kind: 'dot', hx: 30, cx: 39, hy: 24, tx: 90 },
          { label: '2SPHVLV', color: C.orange, kind: 'dot', hx: 30, cx: 39, hy: 66, tx: 90 },
          { label: '2IMHVLV', color: C.green, kind: 'dot', hx: 30, cx: 39, hy: 107, tx: 90 },
          { label: '2IMHBLV', color: C.red, kind: 'dot', hx: 30, cx: 39, hy: 149, tx: 90 },
        ] }} />

      <Panel i={6} yDomain={[-1.14, 20.71]} yTicks={Y7_TICKS} yFmt={(v: number) => minus(v, 1)} yLabel="Detector Temp" yLabelX={42}
        series={[
          line('spinatm', rows(spinatm), C.blue, 7),
          line('sphvatm', rows(sphvatm), C.orange, 7),
          line('iminatm', rows(iminatm), C.green, 7),
          line('imhvatm', rows(imhvatm), C.red, 7),
        ]}
        legend={{ left: 1709, dy: 13, w: 246, h: 177, items: [
          { label: '2SPINATM', color: C.blue, hy: 23 },
          { label: '2SPHVATM', color: C.orange, hy: 65 },
          { label: '2IMINATM', color: C.green, hy: 107 },
          { label: '2IMHVATM', color: C.red, hy: 150 },
        ] }} />

      <Panel i={7} yDomain={[-4, 7.17]} yTicks={Y8_TICKS} yFmt={(v: number) => minus(v)} yLabel="FEA Temp" yLabelX={61}
        series={[
          line('fhtr8', fhtrRows, C.blue, 7),
          line('fradpyt', rows(fradpyt), C.orange, 7),
          line('fepratm', rows(fepratm), C.green, 7),
          line('fe00atm', rows(fe00atm), C.red, 7),
        ]}
        legend={{ left: 1707, dy: 481, w: 248, h: 177, items: [
          { label: '2FHTRMZT', color: C.blue, hy: 23 },
          { label: '2FRADPYT', color: C.orange, hy: 65 },
          { label: '2FEPRATM', color: C.green, hy: 107 },
          { label: '2FE00ATM', color: C.red, hy: 148 },
        ] }} />
    </div>
  );
}
